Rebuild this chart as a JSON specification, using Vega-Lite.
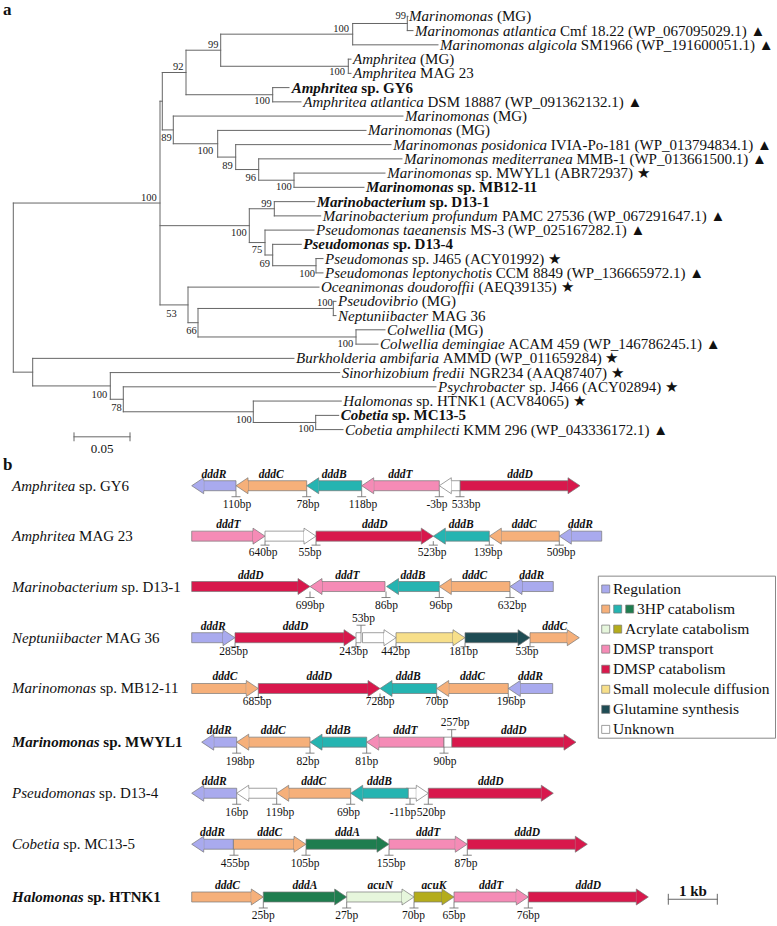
{
"$schema":"https://vega.github.io/schema/vega-lite/v6.json",
"width":777,"height":926,"autosize":{"type":"fit","contains":"padding"},"padding":0,"background":"white",
"config":{"view":{"stroke":null}},
"datasets":{
"tree":[
{"x":13.3,"x2":160,"y":199.4,"y2":199.4},{"x":13.3,"x2":32.7,"y":370.55,"y2":370.55},{"x":160,"x2":162.3,"y":96.35,"y2":96.35},{"x":160,"x2":249.3,"y":222.3,"y2":222.3},{"x":160,"x2":188,"y":302.5,"y2":302.5},{"x":162.3,"x2":186,"y":67.3,"y2":67.3},{"x":162.3,"x2":173.3,"y":125.4,"y2":125.4},{"x":186,"x2":220.7,"y":44.75,"y2":44.75},{"x":186,"x2":272.7,"y":89.8,"y2":89.8},{"x":220.7,"x2":352.7,"y":28.5,"y2":28.5},{"x":220.7,"x2":348.3,"y":61.0,"y2":61.0},{"x":352.7,"x2":407.3,"y":17.7,"y2":17.7},{"x":407.3,"x2":408,"y":10.5,"y2":10.5},{"x":407.3,"x2":413,"y":24.9,"y2":24.9},{"x":352.7,"x2":438,"y":39.3,"y2":39.3},{"x":348.3,"x2":351,"y":53.8,"y2":53.8},{"x":348.3,"x2":351,"y":68.2,"y2":68.2},{"x":272.7,"x2":289,"y":82.6,"y2":82.6},{"x":272.7,"x2":301,"y":97.0,"y2":97.0},{"x":173.3,"x2":403,"y":111.4,"y2":111.4},{"x":173.3,"x2":217.7,"y":139.4,"y2":139.4},{"x":217.7,"x2":366,"y":125.9,"y2":125.9},{"x":217.7,"x2":235.7,"y":152.9,"y2":152.9},{"x":235.7,"x2":391,"y":140.3,"y2":140.3},{"x":235.7,"x2":258.7,"y":165.5,"y2":165.5},{"x":258.7,"x2":402,"y":154.7,"y2":154.7},{"x":258.7,"x2":294,"y":176.3,"y2":176.3},{"x":294,"x2":385,"y":169.1,"y2":169.1},{"x":294,"x2":364,"y":183.5,"y2":183.5},{"x":249.3,"x2":274.3,"y":205.2,"y2":205.2},{"x":274.3,"x2":314.7,"y":198.0,"y2":198.0},{"x":274.3,"x2":320.7,"y":212.4,"y2":212.4},{"x":249.3,"x2":265,"y":239.4,"y2":239.4},{"x":265,"x2":314,"y":226.8,"y2":226.8},{"x":265,"x2":272.7,"y":252.0,"y2":252.0},{"x":272.7,"x2":301.3,"y":241.2,"y2":241.2},{"x":272.7,"x2":316,"y":262.85,"y2":262.85},{"x":316,"x2":323,"y":255.6,"y2":255.6},{"x":316,"x2":323,"y":270.1,"y2":270.1},{"x":188,"x2":319,"y":284.5,"y2":284.5},{"x":188,"x2":198,"y":320.5,"y2":320.5},{"x":198,"x2":333.3,"y":306.1,"y2":306.1},{"x":333.3,"x2":336,"y":298.9,"y2":298.9},{"x":333.3,"x2":336,"y":313.3,"y2":313.3},{"x":198,"x2":356,"y":334.95,"y2":334.95},{"x":356,"x2":385,"y":327.7,"y2":327.7},{"x":356,"x2":378,"y":342.2,"y2":342.2},{"x":32.7,"x2":294,"y":356.6,"y2":356.6},{"x":32.7,"x2":110.3,"y":384.5,"y2":384.5},{"x":110.3,"x2":339.7,"y":371.0,"y2":371.0},{"x":110.3,"x2":123.3,"y":398.0,"y2":398.0},{"x":123.3,"x2":436,"y":385.4,"y2":385.4},{"x":123.3,"x2":253.3,"y":410.65,"y2":410.65},{"x":253.3,"x2":341.3,"y":399.8,"y2":399.8},{"x":253.3,"x2":315.7,"y":421.5,"y2":421.5},{"x":315.7,"x2":338.7,"y":414.3,"y2":414.3},{"x":315.7,"x2":343,"y":428.7,"y2":428.7},
{"x":13.3,"x2":13.3,"y":199.4,"y2":370.55},{"x":160,"x2":160,"y":96.35,"y2":302.5},{"x":162.3,"x2":162.3,"y":67.3,"y2":125.4},{"x":186,"x2":186,"y":44.75,"y2":89.8},{"x":220.7,"x2":220.7,"y":28.5,"y2":61.0},{"x":352.7,"x2":352.7,"y":17.7,"y2":39.3},{"x":407.3,"x2":407.3,"y":10.5,"y2":24.9},{"x":348.3,"x2":348.3,"y":53.8,"y2":68.2},{"x":272.7,"x2":272.7,"y":82.6,"y2":97.0},{"x":173.3,"x2":173.3,"y":111.4,"y2":139.4},{"x":217.7,"x2":217.7,"y":125.9,"y2":152.9},{"x":235.7,"x2":235.7,"y":140.3,"y2":165.5},{"x":258.7,"x2":258.7,"y":154.7,"y2":176.3},{"x":294,"x2":294,"y":169.1,"y2":183.5},{"x":249.3,"x2":249.3,"y":205.2,"y2":239.4},{"x":274.3,"x2":274.3,"y":198.0,"y2":212.4},{"x":265,"x2":265,"y":226.8,"y2":252.0},{"x":272.7,"x2":272.7,"y":241.2,"y2":262.85},{"x":316,"x2":316,"y":255.6,"y2":270.1},{"x":188,"x2":188,"y":284.5,"y2":320.5},{"x":198,"x2":198,"y":306.1,"y2":334.95},{"x":333.3,"x2":333.3,"y":298.9,"y2":313.3},{"x":356,"x2":356,"y":327.7,"y2":342.2},{"x":32.7,"x2":32.7,"y":356.6,"y2":384.5},{"x":110.3,"x2":110.3,"y":371.0,"y2":398.0},{"x":123.3,"x2":123.3,"y":385.4,"y2":410.65},{"x":253.3,"x2":253.3,"y":399.8,"y2":421.5},{"x":315.7,"x2":315.7,"y":414.3,"y2":428.7},
{"x":74,"x2":130,"y":436,"y2":436},{"x":74,"x2":74,"y":432,"y2":440},{"x":130,"x2":130,"y":432,"y2":440},
{"x":668.3,"x2":717.3,"y":904,"y2":904},{"x":668.3,"x2":668.3,"y":899,"y2":909},{"x":717.3,"x2":717.3,"y":899,"y2":909}
],
"boot":[
{"x":406,"y":10,"t":"99"},{"x":349,"y":23.3,"t":"100"},{"x":218.5,"y":39.3,"t":"99"},{"x":183.5,"y":62,"t":"92"},{"x":345,"y":66.7,"t":"100"},{"x":270,"y":96,"t":"100"},{"x":171.7,"y":133.3,"t":"89"},{"x":213.3,"y":146.7,"t":"100"},{"x":232.7,"y":161.7,"t":"89"},{"x":256,"y":174,"t":"96"},{"x":291.7,"y":182.7,"t":"100"},{"x":156.7,"y":194,"t":"100"},{"x":271.7,"y":200,"t":"99"},{"x":246.7,"y":230,"t":"100"},{"x":262.3,"y":247.3,"t":"75"},{"x":270,"y":261,"t":"69"},{"x":315,"y":271,"t":"100"},{"x":176.7,"y":311.7,"t":"53"},{"x":196.7,"y":329,"t":"66"},{"x":332.7,"y":300.7,"t":"100"},{"x":353.3,"y":341.7,"t":"100"},{"x":107.3,"y":393.3,"t":"100"},{"x":121.7,"y":406.7,"t":"78"},{"x":251.7,"y":419,"t":"100"},{"x":314,"y":428.3,"t":"100"}
],
"labels":[
{"x":409,"y":10.5,"it":"Marinomonas","x1":497,"up":"(MG)","b":0},
{"x":415,"y":24.9,"it":"Marinomonas atlantica","x1":560,"up":"Cmf 18.22 (WP_067095029.1) ▲","b":0},
{"x":440,"y":39.3,"it":"Marinomonas algicola","x1":580.8,"up":"SM1966 (WP_191600051.1) ▲","b":0},
{"x":353,"y":53.8,"it":"Amphritea","x1":420.1,"up":"(MG)","b":0},
{"x":353,"y":68.2,"it":"Amphritea","x1":420.1,"up":"MAG 23","b":0},
{"x":291.7,"y":82.6,"it":"Amphritea","x1":361.3,"up":"sp. GY6","b":1},
{"x":303.3,"y":97.0,"it":"Amphritea atlantica","x1":427.5,"up":"DSM 18887 (WP_091362132.1) ▲","b":0},
{"x":405,"y":111.4,"it":"Marinomonas","x1":492.9,"up":"(MG)","b":0},
{"x":368,"y":125.9,"it":"Marinomonas","x1":455.9,"up":"(MG)","b":0},
{"x":393.3,"y":140.3,"it":"Marinomonas posidonica","x1":550.8,"up":"IVIA-Po-181 (WP_013794834.1) ▲","b":0},
{"x":404,"y":154.7,"it":"Marinomonas mediterranea","x1":576.5,"up":"MMB-1 (WP_013661500.1) ▲","b":0},
{"x":387.3,"y":169.1,"it":"Marinomonas","x1":475.2,"up":"sp. MWYL1 (ABR72937) ★","b":0},
{"x":366,"y":183.5,"it":"Marinomonas","x1":457.3,"up":"sp. MB12-11","b":1},
{"x":316.7,"y":198.0,"it":"Marinobacterium","x1":429.6,"up":"sp. D13-1","b":1},
{"x":322.7,"y":212.4,"it":"Marinobacterium profundum","x1":501.9,"up":"PAMC 27536 (WP_067291647.1) ▲","b":0},
{"x":316,"y":226.8,"it":"Pseudomonas taeanensis","x1":470.2,"up":"MS-3 (WP_025167282.1) ▲","b":0},
{"x":303.3,"y":241.2,"it":"Pseudomonas","x1":392.9,"up":"sp. D13-4","b":1},
{"x":325,"y":255.6,"it":"Pseudomonas","x1":412.1,"up":"sp. J465 (ACY01992) ★","b":0},
{"x":325,"y":270.1,"it":"Pseudomonas leptonychotis","x1":495.8,"up":"CCM 8849 (WP_136665972.1) ▲","b":0},
{"x":321,"y":284.5,"it":"Oceanimonas doudoroffii","x1":478.5,"up":"(AEQ39135) ★","b":0},
{"x":338,"y":298.9,"it":"Pseudovibrio","x1":421.8,"up":"(MG)","b":0},
{"x":338,"y":313.3,"it":"Neptuniibacter","x1":431.8,"up":"MAG 36","b":0},
{"x":387,"y":327.7,"it":"Colwellia","x1":449.1,"up":"(MG)","b":0},
{"x":380,"y":342.2,"it":"Colwellia demingiae","x1":508.3,"up":"ACAM 459 (WP_146786245.1) ▲","b":0},
{"x":296,"y":356.6,"it":"Burkholderia ambifaria","x1":442.7,"up":"AMMD (WP_011659284) ★","b":0},
{"x":341.7,"y":371.0,"it":"Sinorhizobium fredii","x1":469.2,"up":"NGR234 (AAQ87407) ★","b":0},
{"x":438,"y":385.4,"it":"Psychrobacter","x1":529.2,"up":"sp. J466 (ACY02894) ★","b":0},
{"x":343.3,"y":399.8,"it":"Halomonas","x1":416.2,"up":"sp. HTNK1 (ACV84065) ★","b":0},
{"x":340.7,"y":414.3,"it":"Cobetia","x1":391.9,"up":"sp. MC13-5","b":1},
{"x":345,"y":428.7,"it":"Cobetia amphilecti","x1":463.3,"up":"KMM 296 (WP_043336172.1) ▲","b":0},
{"x":12,"y":485.5,"it":"Amphritea","x1":79.1,"up":"sp. GY6","b":0},
{"x":12,"y":536.5,"it":"Amphritea","x1":79.1,"up":"MAG 23","b":0},
{"x":12,"y":587.5,"it":"Marinobacterium","x1":121.6,"up":"sp. D13-1","b":0},
{"x":12,"y":639.3,"it":"Neptuniibacter","x1":105.8,"up":"MAG 36","b":0},
{"x":12,"y":690.7,"it":"Marinomonas","x1":99.9,"up":"sp. MB12-11","b":0},
{"x":12,"y":745,"it":"Marinomonas","x1":103.3,"up":"sp. MWYL1","b":1},
{"x":12,"y":796.7,"it":"Pseudomonas","x1":99.1,"up":"sp. D13-4","b":0},
{"x":12,"y":848.3,"it":"Cobetia","x1":63.3,"up":"sp. MC13-5","b":0},
{"x":12,"y":901.7,"it":"Halomonas","x1":87.4,"up":"sp. HTNK1","b":1}
],
"genes":[
{"x":236,"xe":191.7,"y":485.5,"d":"L","k":"dddR"},{"x":306.7,"xe":236,"y":485.5,"d":"L","k":"dddC"},{"x":361.7,"xe":306.7,"y":485.5,"d":"L","k":"dddB"},{"x":439.3,"xe":361.7,"y":485.5,"d":"L","k":"dddT"},{"x":460,"xe":439.3,"y":485.5,"d":"L","k":"unk"},{"x":460,"xe":580,"y":485.5,"d":"R","k":"dddD"},
{"x":191.7,"xe":265,"y":536.5,"d":"R","k":"dddT"},{"x":265,"xe":316,"y":536.5,"d":"R","k":"unk"},{"x":316,"xe":433.3,"y":536.5,"d":"R","k":"dddD"},{"x":489.3,"xe":433.3,"y":536.5,"d":"L","k":"dddB"},{"x":559.3,"xe":489.3,"y":536.5,"d":"L","k":"dddC"},{"x":601.7,"xe":559.3,"y":536.5,"d":"L","k":"dddR"},
{"x":191.7,"xe":310,"y":587.5,"d":"R","k":"dddD"},{"x":385,"xe":310,"y":587.5,"d":"L","k":"dddT"},{"x":439.3,"xe":386.5,"y":587.5,"d":"L","k":"dddB"},{"x":510,"xe":439.3,"y":587.5,"d":"L","k":"dddC"},{"x":553.3,"xe":510,"y":587.5,"d":"L","k":"dddR"},
{"x":191.7,"xe":235,"y":639.3,"d":"R","k":"dddR"},{"x":235,"xe":356,"y":639.3,"d":"R","k":"dddD"},{"x":356,"xe":361,"y":639.3,"d":"N","k":"unk"},{"x":362.5,"xe":396,"y":639.3,"d":"R","k":"unk"},{"x":396,"xe":465,"y":639.3,"d":"R","k":"diff"},{"x":465,"xe":530,"y":639.3,"d":"R","k":"glut"},{"x":530,"xe":579.3,"y":639.3,"d":"R","k":"dddC"},
{"x":191.7,"xe":258.3,"y":690.7,"d":"R","k":"dddC"},{"x":258.3,"xe":380,"y":690.7,"d":"R","k":"dddD"},{"x":436.7,"xe":380,"y":690.7,"d":"L","k":"dddB"},{"x":508.3,"xe":436.7,"y":690.7,"d":"L","k":"dddC"},{"x":552.7,"xe":508.3,"y":690.7,"d":"L","k":"dddR"},
{"x":236.7,"xe":201.7,"y":745,"d":"L","k":"dddR"},{"x":310,"xe":236.7,"y":745,"d":"L","k":"dddC"},{"x":366.7,"xe":310,"y":745,"d":"L","k":"dddB"},{"x":444,"xe":366.7,"y":745,"d":"L","k":"dddT"},{"x":444,"xe":451.7,"y":745,"d":"N","k":"unk"},{"x":451.7,"xe":576,"y":745,"d":"R","k":"dddD"},
{"x":236.7,"xe":191.7,"y":796.7,"d":"L","k":"dddR"},{"x":276.7,"xe":236.7,"y":796.7,"d":"L","k":"unk"},{"x":350.7,"xe":276.7,"y":796.7,"d":"L","k":"dddC"},{"x":406,"xe":428.3,"y":796.7,"d":"R","k":"unk"},{"x":408.3,"xe":350.7,"y":796.7,"d":"L","k":"dddB"},{"x":428.3,"xe":553.3,"y":796.7,"d":"R","k":"dddD"},
{"x":233.3,"xe":191.7,"y":848.3,"d":"L","k":"dddR"},{"x":233.3,"xe":306,"y":848.3,"d":"R","k":"dddC"},{"x":306,"xe":389,"y":848.3,"d":"R","k":"dddA"},{"x":389,"xe":467.3,"y":848.3,"d":"R","k":"dddT"},{"x":467.3,"xe":587.3,"y":848.3,"d":"R","k":"dddD"},
{"x":191.7,"xe":263.3,"y":901.7,"d":"R","k":"dddC"},{"x":263.3,"xe":346.7,"y":901.7,"d":"R","k":"dddA"},{"x":346.7,"xe":414,"y":901.7,"d":"R","k":"acuN"},{"x":414,"xe":454,"y":901.7,"d":"R","k":"acuK"},{"x":454,"xe":528.3,"y":901.7,"d":"R","k":"dddT"},{"x":528.3,"xe":648.3,"y":901.7,"d":"R","k":"dddD"}
],
"glab":[
{"x":214,"y":485.5,"t":"dddR"},{"x":271.3,"y":485.5,"t":"dddC"},{"x":334.2,"y":485.5,"t":"dddB"},{"x":400.5,"y":485.5,"t":"dddT"},{"x":520,"y":485.5,"t":"dddD"},
{"x":228.3,"y":536.5,"t":"dddT"},{"x":374.7,"y":536.5,"t":"dddD"},{"x":461.3,"y":536.5,"t":"dddB"},{"x":524.3,"y":536.5,"t":"dddC"},{"x":580.5,"y":536.5,"t":"dddR"},
{"x":250.8,"y":587.5,"t":"dddD"},{"x":347.5,"y":587.5,"t":"dddT"},{"x":413,"y":587.5,"t":"dddB"},{"x":474.7,"y":587.5,"t":"dddC"},{"x":531.7,"y":587.5,"t":"dddR"},
{"x":213.3,"y":639.3,"t":"dddR"},{"x":295.5,"y":639.3,"t":"dddD"},{"x":554.7,"y":639.3,"t":"dddC"},
{"x":225,"y":690.7,"t":"dddC"},{"x":319.2,"y":690.7,"t":"dddD"},{"x":408.3,"y":690.7,"t":"dddB"},{"x":472.5,"y":690.7,"t":"dddC"},{"x":530.5,"y":690.7,"t":"dddR"},
{"x":219.2,"y":745,"t":"dddR"},{"x":273.3,"y":745,"t":"dddC"},{"x":338.3,"y":745,"t":"dddB"},{"x":405.3,"y":745,"t":"dddT"},{"x":513.8,"y":745,"t":"dddD"},
{"x":214.2,"y":796.7,"t":"dddR"},{"x":313.7,"y":796.7,"t":"dddC"},{"x":379.5,"y":796.7,"t":"dddB"},{"x":490.8,"y":796.7,"t":"dddD"},
{"x":212.5,"y":848.3,"t":"dddR"},{"x":269.7,"y":848.3,"t":"dddC"},{"x":347.5,"y":848.3,"t":"dddA"},{"x":428.2,"y":848.3,"t":"dddT"},{"x":527.3,"y":848.3,"t":"dddD"},
{"x":227.5,"y":901.7,"t":"dddC"},{"x":305,"y":901.7,"t":"dddA"},{"x":380.3,"y":901.7,"t":"acuN"},{"x":434,"y":901.7,"t":"acuK"},{"x":491.2,"y":901.7,"t":"dddT"},{"x":588.3,"y":901.7,"t":"dddD"}
],
"ticks":[
{"x":236,"y":485.5,"u":"D"},{"x":306.7,"y":485.5,"u":"D"},{"x":361.7,"y":485.5,"u":"D"},{"x":439.3,"y":485.5,"u":"D"},{"x":460,"y":485.5,"u":"D"},
{"x":265,"y":536.5,"u":"E"},{"x":316,"y":536.5,"u":"E"},{"x":433.3,"y":536.5,"u":"E"},{"x":489.3,"y":536.5,"u":"E"},{"x":559.3,"y":536.5,"u":"E"},
{"x":310,"y":587.5,"u":"D"},{"x":386,"y":587.5,"u":"D"},{"x":439.3,"y":587.5,"u":"D"},{"x":510,"y":587.5,"u":"D"},
{"x":235,"y":639.3,"u":"E"},{"x":356,"y":639.3,"u":"E"},{"x":361,"y":639.3,"u":"U"},{"x":396,"y":639.3,"u":"E"},{"x":465,"y":639.3,"u":"E"},{"x":530,"y":639.3,"u":"E"},
{"x":258.3,"y":690.7,"u":"E"},{"x":380,"y":690.7,"u":"E"},{"x":436.7,"y":690.7,"u":"E"},{"x":508.3,"y":690.7,"u":"E"},
{"x":236.7,"y":745,"u":"D"},{"x":310,"y":745,"u":"D"},{"x":366.7,"y":745,"u":"D"},{"x":444,"y":745,"u":"D"},{"x":451.7,"y":745,"u":"U"},
{"x":236.7,"y":796.7,"u":"D"},{"x":276.7,"y":796.7,"u":"D"},{"x":350.7,"y":796.7,"u":"D"},{"x":410,"y":796.7,"u":"D"},{"x":428.3,"y":796.7,"u":"D"},
{"x":234,"y":848.3,"u":"D"},{"x":306,"y":848.3,"u":"D"},{"x":389,"y":848.3,"u":"D"},{"x":467.3,"y":848.3,"u":"D"},
{"x":263.3,"y":901.7,"u":"D"},{"x":346.7,"y":901.7,"u":"D"},{"x":414,"y":901.7,"u":"D"},{"x":454,"y":901.7,"u":"D"},{"x":528.3,"y":901.7,"u":"D"}
],
"bp":[
{"x":237,"y":485.5,"t":"110bp","u":"D"},{"x":308,"y":485.5,"t":"78bp","u":"D"},{"x":363,"y":485.5,"t":"118bp","u":"D"},{"x":437,"y":485.5,"t":"-3bp","u":"D"},{"x":466,"y":485.5,"t":"533bp","u":"D"},
{"x":263,"y":536.5,"t":"640bp","u":"E"},{"x":310,"y":536.5,"t":"55bp","u":"E"},{"x":432,"y":536.5,"t":"523bp","u":"E"},{"x":488,"y":536.5,"t":"139bp","u":"E"},{"x":561,"y":536.5,"t":"509bp","u":"E"},
{"x":310,"y":587.5,"t":"699bp","u":"D"},{"x":386.5,"y":587.5,"t":"86bp","u":"D"},{"x":441,"y":587.5,"t":"96bp","u":"D"},{"x":512,"y":587.5,"t":"632bp","u":"D"},
{"x":233.5,"y":639.3,"t":"285bp","u":"F"},{"x":353.5,"y":639.3,"t":"243bp","u":"F"},{"x":363.5,"y":639.3,"t":"53bp","u":"U"},{"x":395.5,"y":639.3,"t":"442bp","u":"F"},{"x":463.5,"y":639.3,"t":"181bp","u":"F"},{"x":527,"y":639.3,"t":"53bp","u":"F"},
{"x":257,"y":690.7,"t":"685bp","u":"F"},{"x":380,"y":690.7,"t":"728bp","u":"F"},{"x":436.7,"y":690.7,"t":"70bp","u":"F"},{"x":511,"y":690.7,"t":"196bp","u":"F"},
{"x":240,"y":745,"t":"198bp","u":"D"},{"x":308,"y":745,"t":"82bp","u":"D"},{"x":366.7,"y":745,"t":"81bp","u":"D"},{"x":445,"y":745,"t":"90bp","u":"D"},{"x":455,"y":745,"t":"257bp","u":"U"},
{"x":236.7,"y":796.7,"t":"16bp","u":"D"},{"x":280,"y":796.7,"t":"119bp","u":"D"},{"x":348.5,"y":796.7,"t":"69bp","u":"D"},{"x":403,"y":796.7,"t":"-11bp","u":"D"},{"x":431,"y":796.7,"t":"520bp","u":"D"},
{"x":235,"y":848.3,"t":"455bp","u":"D"},{"x":305,"y":848.3,"t":"105bp","u":"D"},{"x":391,"y":848.3,"t":"155bp","u":"D"},{"x":466,"y":848.3,"t":"87bp","u":"D"},
{"x":263.3,"y":901.7,"t":"25bp","u":"D"},{"x":346.7,"y":901.7,"t":"27bp","u":"D"},{"x":413.5,"y":901.7,"t":"70bp","u":"D"},{"x":454,"y":901.7,"t":"65bp","u":"D"},{"x":528.3,"y":901.7,"t":"76bp","u":"D"}
],
"legsq":[
{"x":605.7,"y":590,"k":"dddR"},{"x":605.7,"y":610.3,"k":"dddC"},{"x":617.7,"y":610.3,"k":"dddB"},{"x":629.7,"y":610.3,"k":"dddA"},{"x":605.7,"y":630.6,"k":"acuN"},{"x":617.7,"y":630.6,"k":"acuK"},{"x":605.7,"y":650.9,"k":"dddT"},{"x":605.7,"y":671.2,"k":"dddD"},{"x":605.7,"y":691.5,"k":"diff"},{"x":605.7,"y":711.8,"k":"glut"},{"x":605.7,"y":732.1,"k":"unk"}
],
"legtx":[
{"x":613,"y":590,"t":"Regulation"},{"x":637,"y":610.3,"t":"3HP catabolism"},{"x":625,"y":630.6,"t":"Acrylate catabolism"},{"x":613,"y":650.9,"t":"DMSP transport"},{"x":613,"y":671.2,"t":"DMSP catabolism"},{"x":613,"y":691.5,"t":"Small molecule diffusion"},{"x":613,"y":711.8,"t":"Glutamine synthesis"},{"x":613,"y":732.1,"t":"Unknown"}
],
"box":[{"x":598.3,"x2":775.5,"y":577,"y2":741}],
"misc":[{"x":102,"y":448,"t":"0.05"}],
"miscb":[{"x":693,"y":896,"t":"1 kb"}],
"letters":[{"x":3,"y":9,"t":"a"},{"x":3,"y":470,"t":"b"}]
},
"encoding":{
"x":{"field":"x","type":"quantitative","scale":{"domain":[0,777],"nice":false,"zero":false},"axis":null},
"y":{"field":"y","type":"quantitative","scale":{"domain":[0,926],"nice":false,"zero":false,"reverse":true},"axis":null}
},
"layer":[
{"data":{"name":"tree"},"mark":{"type":"rule","stroke":"#666666","strokeWidth":1,"strokeCap":"square"},"encoding":{"x2":{"field":"x2"},"y2":{"field":"y2"}}},
{"data":{"name":"boot"},"mark":{"type":"text","align":"right","baseline":"middle","font":"Liberation Serif","fontSize":10.5,"fill":"#222222"},"encoding":{"text":{"field":"t"}}},
{"data":{"name":"labels"},"transform":[{"filter":"datum.b == 0"}],"mark":{"type":"text","align":"left","baseline":"middle","font":"Liberation Serif","fontSize":15,"fontStyle":"italic","fill":"#111111"},"encoding":{"text":{"field":"it"}}},
{"data":{"name":"labels"},"transform":[{"filter":"datum.b == 1"}],"mark":{"type":"text","align":"left","baseline":"middle","font":"Liberation Serif","fontSize":15,"fontStyle":"italic","fontWeight":"bold","fill":"#111111"},"encoding":{"text":{"field":"it"}}},
{"data":{"name":"labels"},"transform":[{"filter":"datum.b == 0"}],"mark":{"type":"text","align":"left","baseline":"middle","font":"Liberation Serif","fontSize":15,"fill":"#111111"},"encoding":{"x":{"field":"x1","type":"quantitative","scale":{"domain":[0,777],"nice":false,"zero":false},"axis":null},"text":{"field":"up"}}},
{"data":{"name":"labels"},"transform":[{"filter":"datum.b == 1"}],"mark":{"type":"text","align":"left","baseline":"middle","font":"Liberation Serif","fontSize":15,"fontWeight":"bold","fill":"#111111"},"encoding":{"x":{"field":"x1","type":"quantitative","scale":{"domain":[0,777],"nice":false,"zero":false},"axis":null},"text":{"field":"up"}}},
{"data":{"name":"genes"},"transform":[{"filter":"datum.d == 'R'"}],"mark":{"type":"bar","height":10,"x2Offset":-12,"stroke":"#777777","strokeWidth":0.7},"encoding":{"x2":{"field":"xe"},"fill":{"field":"k","type":"nominal","scale":{"domain":["dddR","dddC","dddB","dddA","acuN","acuK","dddT","dddD","diff","glut","unk"],"range":["#a9aaee","#f6b07a","#25b4b1","#1f7d4f","#e6f6dc","#b4ac1c","#f58bb6","#d8184c","#f7df8a","#1f4c54","#ffffff"]},"legend":null}}},
{"data":{"name":"genes"},"transform":[{"filter":"datum.d == 'L'"}],"mark":{"type":"bar","height":10,"x2Offset":12,"stroke":"#777777","strokeWidth":0.7},"encoding":{"x2":{"field":"xe"},"fill":{"field":"k","type":"nominal","scale":{"domain":["dddR","dddC","dddB","dddA","acuN","acuK","dddT","dddD","diff","glut","unk"],"range":["#a9aaee","#f6b07a","#25b4b1","#1f7d4f","#e6f6dc","#b4ac1c","#f58bb6","#d8184c","#f7df8a","#1f4c54","#ffffff"]},"legend":null}}},
{"data":{"name":"genes"},"transform":[{"filter":"datum.d == 'N'"}],"mark":{"type":"bar","height":10,"stroke":"#777777","strokeWidth":0.7},"encoding":{"x2":{"field":"xe"},"fill":{"field":"k","type":"nominal","scale":{"domain":["dddR","dddC","dddB","dddA","acuN","acuK","dddT","dddD","diff","glut","unk"],"range":["#a9aaee","#f6b07a","#25b4b1","#1f7d4f","#e6f6dc","#b4ac1c","#f58bb6","#d8184c","#f7df8a","#1f4c54","#ffffff"]},"legend":null}}},
{"data":{"name":"genes"},"transform":[{"filter":"datum.d != 'N'"}],"mark":{"type":"point","filled":true,"opacity":1,"size":4,"stroke":"#777777","strokeWidth":0.7},"encoding":{"x":{"field":"xe","type":"quantitative","scale":{"domain":[0,777],"nice":false,"zero":false},"axis":null},"shape":{"field":"d","type":"nominal","scale":{"domain":["R","L","D","E","U"],"range":["M-12,-5L-12,-8L0,0L-12,8L-12,5","M12,-5L12,-8L0,0L12,8L12,5","M0,5L0,11M-4.5,11L4.5,11","M0,5L0,9M-4.5,9L4.5,9","M0,-5L0,-12.5M-4.5,-12.5L4.5,-12.5"]},"legend":null},"fill":{"field":"k","type":"nominal","scale":{"domain":["dddR","dddC","dddB","dddA","acuN","acuK","dddT","dddD","diff","glut","unk"],"range":["#a9aaee","#f6b07a","#25b4b1","#1f7d4f","#e6f6dc","#b4ac1c","#f58bb6","#d8184c","#f7df8a","#1f4c54","#ffffff"]},"legend":null}}},
{"data":{"name":"ticks"},"mark":{"type":"point","filled":false,"opacity":1,"size":4,"stroke":"#666666","strokeWidth":0.8},"encoding":{"shape":{"field":"u","type":"nominal","scale":{"domain":["R","L","D","E","U"],"range":["M-12,-5L-12,-8L0,0L-12,8L-12,5","M12,-5L12,-8L0,0L12,8L12,5","M0,5L0,11M-4.5,11L4.5,11","M0,5L0,9M-4.5,9L4.5,9","M0,-5L0,-12.5M-4.5,-12.5L4.5,-12.5"]},"legend":null}}},
{"data":{"name":"glab"},"mark":{"type":"text","align":"center","baseline":"middle","dy":-11,"font":"Liberation Serif","fontSize":11.5,"fontStyle":"italic","fontWeight":"bold","fill":"#111111"},"encoding":{"text":{"field":"t"}}},
{"data":{"name":"bp"},"transform":[{"filter":"datum.u == 'D'"}],"mark":{"type":"text","align":"center","baseline":"middle","dy":19.5,"font":"Liberation Serif","fontSize":11.5,"fill":"#111111"},"encoding":{"text":{"field":"t"}}},
{"data":{"name":"bp"},"transform":[{"filter":"datum.u == 'E'"}],"mark":{"type":"text","align":"center","baseline":"middle","dy":16.5,"font":"Liberation Serif","fontSize":11.5,"fill":"#111111"},"encoding":{"text":{"field":"t"}}},
{"data":{"name":"bp"},"transform":[{"filter":"datum.u == 'F'"}],"mark":{"type":"text","align":"center","baseline":"middle","dy":14,"font":"Liberation Serif","fontSize":11.5,"fill":"#111111"},"encoding":{"text":{"field":"t"}}},
{"data":{"name":"bp"},"transform":[{"filter":"datum.u == 'U'"}],"mark":{"type":"text","align":"center","baseline":"middle","dy":-19,"font":"Liberation Serif","fontSize":11.5,"fill":"#111111"},"encoding":{"text":{"field":"t"}}},
{"data":{"name":"box"},"mark":{"type":"rect","fill":null,"fillOpacity":0,"stroke":"#888888","strokeWidth":1},"encoding":{"x2":{"field":"x2"},"y2":{"field":"y2"}}},
{"data":{"name":"legsq"},"mark":{"type":"point","shape":"square","filled":true,"opacity":1,"size":64,"stroke":"#777777","strokeWidth":0.7},"encoding":{"fill":{"field":"k","type":"nominal","scale":{"domain":["dddR","dddC","dddB","dddA","acuN","acuK","dddT","dddD","diff","glut","unk"],"range":["#a9aaee","#f6b07a","#25b4b1","#1f7d4f","#e6f6dc","#b4ac1c","#f58bb6","#d8184c","#f7df8a","#1f4c54","#ffffff"]},"legend":null}}},
{"data":{"name":"legtx"},"mark":{"type":"text","align":"left","baseline":"middle","font":"Liberation Serif","fontSize":15.5,"fill":"#111111"},"encoding":{"text":{"field":"t"}}},
{"data":{"name":"misc"},"mark":{"type":"text","align":"center","baseline":"middle","font":"Liberation Serif","fontSize":13,"fill":"#111111"},"encoding":{"text":{"field":"t"}}},
{"data":{"name":"miscb"},"mark":{"type":"text","align":"center","baseline":"middle","font":"Liberation Serif","fontSize":15,"fontWeight":"bold","fill":"#111111"},"encoding":{"text":{"field":"t"}}},
{"data":{"name":"letters"},"mark":{"type":"text","align":"left","baseline":"alphabetic","font":"Liberation Serif","fontSize":17,"fontWeight":"bold","fill":"#111111"},"encoding":{"text":{"field":"t"}}}
]
}
